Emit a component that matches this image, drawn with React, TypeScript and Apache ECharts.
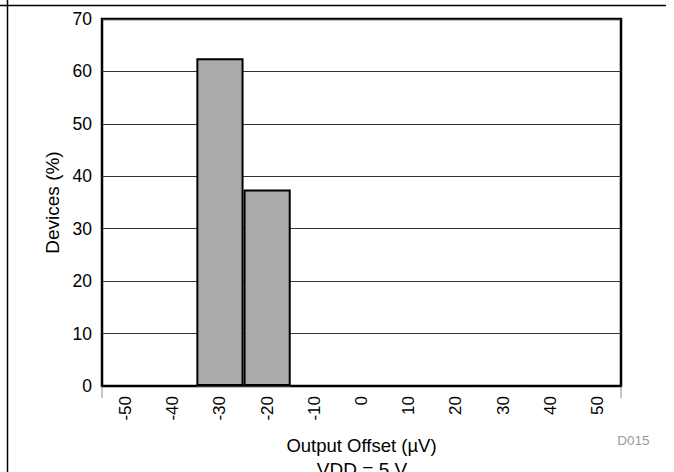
import React, { useEffect, useRef } from "react";
import * as echarts from "echarts";

const categories: string[] = ["-50", "-40", "-30", "-20", "-10", "0", "10", "20", "30", "40", "50"];
const devicesPct: number[] = [0, 0, 62.5, 37.5, 0, 0, 0, 0, 0, 0, 0];
const yMin = 0;
const yMax = 70;
const yInterval = 10;

const FONT = "'Liberation Sans', Arial, Helvetica, sans-serif";

export default function App() {
  const ref = useRef<HTMLDivElement>(null);
  useEffect(() => {
    if (!ref.current) return;
    const chart = echarts.init(ref.current, null, { renderer: "svg" });
    const gl = { left: 102, top: 19, right: 53, bottom: 86 };
    chart.setOption({
      animation: false,
      backgroundColor: "#ffffff",
      textStyle: { fontFamily: FONT },
      grid: {
        left: gl.left,
        top: gl.top,
        right: gl.right,
        bottom: gl.bottom,
        show: true,
        borderColor: "#000",
        borderWidth: 2.5,
        backgroundColor: "transparent",
      },
      xAxis: {
        type: "category",
        data: categories,
        boundaryGap: true,
        axisLine: { show: false },
        axisTick: { show: false },
        axisLabel: {
          rotate: 90,
          margin: 10,
          fontSize: 17,
          color: "#000",
          fontFamily: FONT,
        },
        splitLine: { show: false },
        name: "Output Offset (µV)",
        nameLocation: "middle",
        nameGap: 50,
        nameTextStyle: { fontSize: 18.5, color: "#000", fontFamily: FONT },
      },
      yAxis: {
        type: "value",
        min: yMin,
        max: yMax,
        interval: yInterval,
        axisLine: { show: false },
        axisTick: { show: false },
        axisLabel: { margin: 10, fontSize: 17.5, color: "#000", fontFamily: FONT },
        splitLine: { show: true, lineStyle: { color: "#333", width: 1 } },
        name: "Devices (%)",
        nameLocation: "middle",
        nameGap: 38,
        nameTextStyle: { fontSize: 19, color: "#000", fontFamily: FONT },
      },
      series: [
        {
          type: "bar",
          data: devicesPct,
          barWidth: "100%",
          barGap: "0%",
          itemStyle: { color: "#aaaaaa", borderColor: "#000", borderWidth: 2 },
          silent: true,
        },
      ],
      graphic: [
        { type: "line", shape: { x1: 0, y1: 5.5, x2: 666, y2: 5.5 }, style: { stroke: "#000", lineWidth: 1.5 } },
        { type: "line", shape: { x1: 7.5, y1: 0, x2: 7.5, y2: 472 }, style: { stroke: "#000", lineWidth: 1.5 } },
        { type: "line", shape: { x1: 102, y1: 386, x2: 102, y2: 398 }, style: { stroke: "#888", lineWidth: 1 } },
        { type: "line", shape: { x1: 621, y1: 386, x2: 621, y2: 398 }, style: { stroke: "#888", lineWidth: 1 } },
        {
          type: "text",
          x: 633.5,
          y: 440,
          style: { text: "D015", fontSize: 13.5, fill: "#999", fontFamily: FONT, align: "center", verticalAlign: "middle" },
        },
        {
          type: "text",
          x: 362,
          y: 460,
          style: { text: "VDD = 5 V", fontSize: 19, fill: "#000", fontFamily: FONT, align: "center", verticalAlign: "top" },
        },
      ],
    });
    return () => chart.dispose();
  }, []);
  return (
    <div
      ref={ref}
      style={{ position: "fixed", left: 0, top: 0, width: 674, height: 472, background: "#fff" }}
    />
  );
}
